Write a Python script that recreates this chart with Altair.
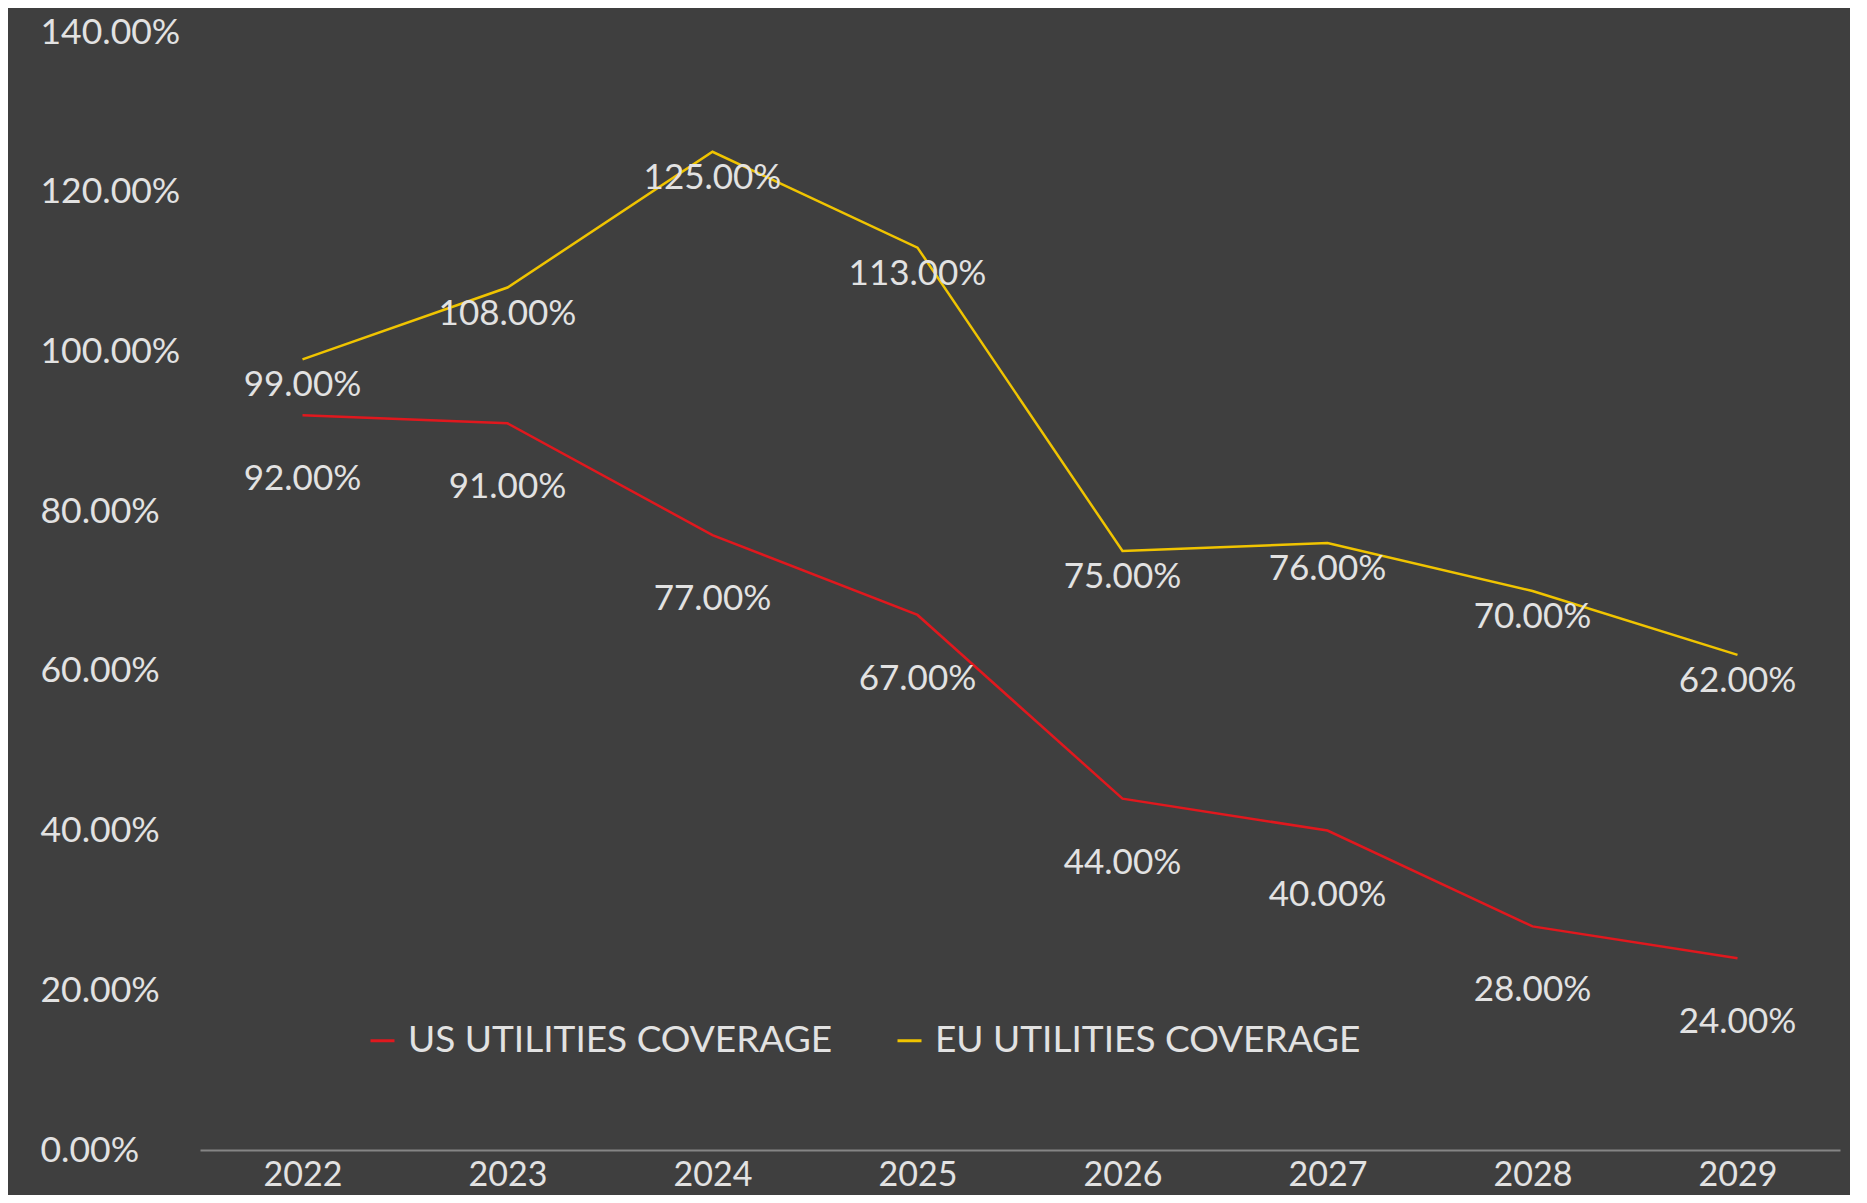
import altair as alt
import pandas as pd

years = ["2022", "2023", "2024", "2025", "2026", "2027", "2028", "2029"]
us_coverage = [0.92, 0.91, 0.77, 0.67, 0.44, 0.40, 0.28, 0.24]
eu_coverage = [0.99, 1.08, 1.25, 1.13, 0.75, 0.76, 0.70, 0.62]
series_names = ["US UTILITIES COVERAGE", "EU UTILITIES COVERAGE"]
series_colors = ["#e0181e", "#f0c400"]
y_ticks = [0, 0.2, 0.4, 0.6, 0.8, 1.0, 1.2, 1.4]

rows = []
for name, vals in zip(series_names, [us_coverage, eu_coverage]):
    for yr, v in zip(years, vals):
        rows.append({"year": yr, "series": name, "value": v})
df = pd.DataFrame(rows)

FONT = "Lato"
TXT = "#e2e2e2"

x_enc = alt.X(
    "year:O",
    sort=years,
    scale=alt.Scale(padding=0.5),
    axis=alt.Axis(
        title=None,
        labelAngle=0,
        labelFont=FONT,
        labelFontSize=34,
        labelColor=TXT,
        labelPadding=8,
        ticks=False,
        domainColor="#858585",
        domainWidth=2,
        grid=False,
    ),
)
y_enc = alt.Y(
    "value:Q",
    scale=alt.Scale(domain=[0, 1.4], nice=False),
    axis=alt.Axis(
        title=None,
        values=y_ticks,
        format=".2%",
        labelFont=FONT,
        labelFontSize=35.5,
        labelColor=TXT,
        labelAlign="left",
        labelPadding=160,
        ticks=False,
        domain=False,
        grid=False,
    ),
)
color_enc = alt.Color(
    "series:N",
    sort=series_names,
    scale=alt.Scale(domain=series_names, range=series_colors),
    legend=alt.Legend(
        title=None,
        orient="none",
        direction="horizontal",
        columns=2,
        legendX=164,
        legendY=990,
        symbolType="stroke",
        symbolSize=576,
        symbolStrokeWidth=3,
        labelFont=FONT,
        labelFontSize=37,
        labelColor=TXT,
        labelOffset=7,
        columnPadding=58,
        labelLimit=600,
    ),
)

lines = alt.Chart(df).mark_line(strokeWidth=2.5).encode(x=x_enc, y=y_enc, color=color_enc)

us_labels = alt.Chart(df).transform_filter(
    alt.datum.series == series_names[0]
).mark_text(font=FONT, fontSize=35, color=TXT, dy=64, baseline="middle").encode(
    x=alt.X("year:O", sort=years),
    y=alt.Y("value:Q"),
    text=alt.Text("value:Q", format=".2%"),
)
eu_labels = alt.Chart(df).transform_filter(
    alt.datum.series == series_names[1]
).mark_text(font=FONT, fontSize=35, color=TXT, dy=26, baseline="middle").encode(
    x=alt.X("year:O", sort=years),
    y=alt.Y("value:Q"),
    text=alt.Text("value:Q", format=".2%"),
)

chart = (
    alt.layer(lines, us_labels, eu_labels)
    .properties(
        width=1640,
        height=1118,
        autosize=alt.AutoSizeParams(type="none"),
        padding={"left": 192, "top": 24, "right": 10, "bottom": 45},
        background="#3f3f3f",
    )
    .configure_view(stroke=None)
)

chart.save("out.html", embed_options={"renderer": "svg", "actions": False})
